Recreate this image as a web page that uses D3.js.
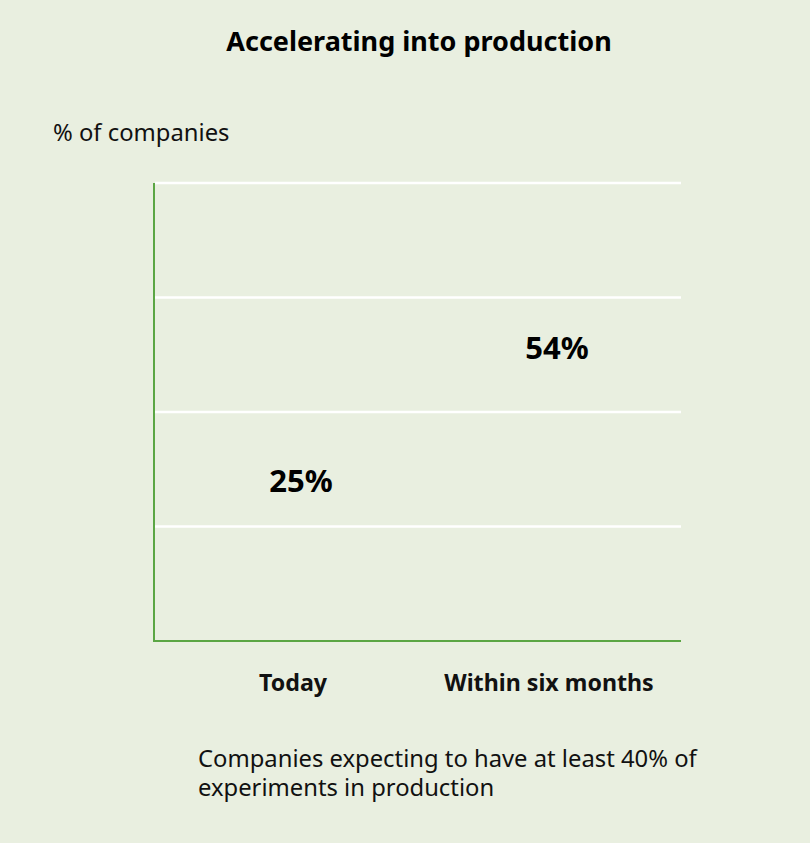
<!DOCTYPE html>
<html lang="en">
<head>
  <meta charset="utf-8">
  <title>Accelerating into production</title>
  <style>
    body { margin: 0; background: #e9efe0; }
    svg { display: block; font-family: "Noto Sans", sans-serif; }
  </style>
</head>
<body>
  <div id="chart"></div>
  <script src="https://d3js.org/d3.v7.min.js"></script>
  <script>
    var categories = ["Today", "Within six months"];
    var values = [25, 54];
    var yTicks = [0, 25, 50, 75, 100];

    var w = 810, h = 843;
    var bg = "#e9efe0";
    var green = "#5ba644";

    const svg = d3.select("#chart").append("svg")
      .attr("width", w)
      .attr("height", h);

    svg.append("rect").attr("width", w).attr("height", h).attr("fill", bg);

    const x = d3.scaleBand().domain(categories).range([165, 677]);
    const y = d3.scaleLinear().domain([0, 100]).range([641, 183]);

    // bars (no visible fill in the original)
    svg.append("g")
      .selectAll("rect").data(values).enter()
      .append("rect")
      .attr("x", (d, i) => x(categories[i]) + 40)
      .attr("width", x.bandwidth() - 80)
      .attr("y", d => y(d))
      .attr("height", d => y(0) - y(d))
      .attr("fill", "none");

    // gridlines
    svg.append("g")
      .selectAll("line").data(yTicks.slice(1)).enter()
      .append("line")
      .attr("x1", 155).attr("x2", 681)
      .attr("y1", d => y(d)).attr("y2", d => y(d))
      .attr("stroke", "#ffffff")
      .attr("stroke-width", 2.5);

    // axes lines
    svg.append("line")
      .attr("x1", 154).attr("x2", 154)
      .attr("y1", y(100)).attr("y2", y(0) + 1)
      .attr("stroke", green).attr("stroke-width", 2);
    svg.append("line")
      .attr("x1", 153).attr("x2", 681)
      .attr("y1", y(0)).attr("y2", y(0))
      .attr("stroke", green).attr("stroke-width", 2);

    // value labels
    svg.append("g")
      .selectAll("text").data(values).enter()
      .append("text")
      .attr("x", (d, i) => x(categories[i]) + x.bandwidth() / 2 + 8)
      .attr("y", d => y(d) - 35)
      .attr("text-anchor", "middle")
      .attr("font-size", 31)
      .attr("font-weight", "bold")
      .attr("fill", "#000")
      .text(d => d + "%");

    // category labels
    const xAxis = d3.axisBottom(x).tickSize(0).tickPadding(0);
    const gx = svg.append("g")
      .attr("transform", "translate(0," + 675 + ")")
      .call(xAxis);
    gx.select(".domain").remove();
    gx.selectAll("text")
      .attr("font-family", "Noto Sans, sans-serif")
      .attr("font-size", 23.2)
      .attr("font-weight", "bold")
      .attr("fill", "#111")
      .attr("dy", "0.71em");

    // title
    svg.append("text")
      .attr("x", 419).attr("y", 51)
      .attr("text-anchor", "middle")
      .attr("font-size", 27)
      .attr("font-weight", "bold")
      .attr("fill", "#000")
      .text("Accelerating into production");

    // y axis label
    svg.append("text")
      .attr("x", 53).attr("y", 141)
      .attr("font-size", 23.8)
      .attr("fill", "#111")
      .text("% of companies");

    // caption
    const cap = svg.append("text")
      .attr("x", 198).attr("y", 767)
      .attr("font-size", 23.8)
      .attr("fill", "#111");
    cap.append("tspan").attr("x", 198).text("Companies expecting to have at least 40% of");
    cap.append("tspan").attr("x", 198).attr("dy", 29).text("experiments in production");
  </script>
</body>
</html>
